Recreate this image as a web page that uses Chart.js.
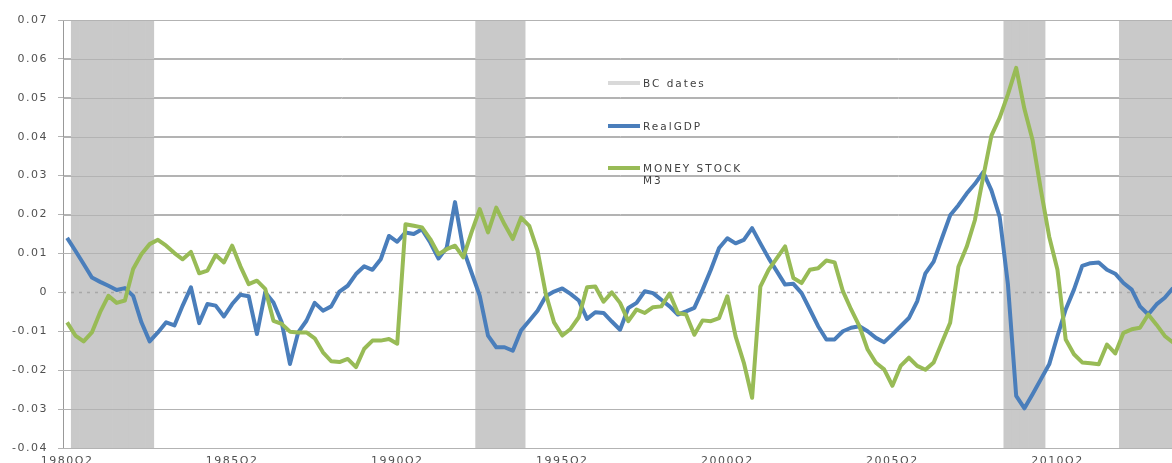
<!DOCTYPE html>
<html>
<head>
<meta charset="utf-8">
<script src="https://cdn.jsdelivr.net/npm/chart.js@4"></script>
<style>
  html, body { margin: 0; padding: 0; width: 1172px; height: 463px; overflow: hidden; background: #fff; }
  #wrap { position: absolute; left: 0; top: 0; width: 1180px; height: 475px; }
  #legend { position: absolute; left: 0; top: 0; font-family: "DejaVu Sans", sans-serif; font-size: 10.5px; color: #404040; letter-spacing: 2px; }
  .item { position: absolute; left: 608px; white-space: nowrap; }
  .item .swatch { position: absolute; left: 0; width: 32px; height: 4px; }
  .item .txt { position: absolute; left: 35px; line-height: 12px; }
</style>
</head>
<body>
<div id="wrap">
  <canvas id="chart" width="1180" height="475"></canvas>
  <div id="legend"></div>
</div>
<script>
/* === DATA === */
const firstYear = 1980;
const firstQuarter = 2;
const quarterCount = 135;

const xTickLabels = ["1980Q2", "1985Q2", "1990Q2", "1995Q2", "2000Q2", "2005Q2", "2010Q2"];

// business cycle periods (first and last quarter of each shaded band)
const bcPeriods = [
  ["1980Q3", "1982Q4"],
  ["1992Q4", "1994Q1"],
  ["2008Q4", "2009Q4"],
  ["2012Q2", "2013Q4"]
];

const realGDP = [
  0.014, 0.0107, 0.0073, 0.0038, 0.0027, 0.0017, 0.0006, 0.0011, -0.0009, -0.0077,
  -0.0126, -0.0103, -0.0077, -0.0085, -0.0034, 0.0013, -0.0079, -0.003, -0.0034, -0.0062,
  -0.003, -0.0006, -0.001, -0.0107, 0.0, -0.0026, -0.0077, -0.0184, -0.0103, -0.0073,
  -0.0027, -0.0047, -0.0036, 0.0002, 0.0017, 0.0047, 0.0067, 0.0058, 0.0085, 0.0145,
  0.013, 0.0154, 0.015, 0.0162, 0.0128, 0.0087, 0.0115, 0.0232, 0.0111, 0.0051,
  -0.0009, -0.0111, -0.0141, -0.0141, -0.015, -0.0098, -0.0073, -0.0047, -0.001, 0.0002,
  0.001, -0.0004, -0.0021, -0.0068, -0.0051, -0.0053, -0.0075, -0.0096, -0.004, -0.0027,
  0.0003, -0.0002, -0.0019, -0.0036, -0.0057, -0.0049, -0.004, 0.0007, 0.0058, 0.0114,
  0.0139, 0.0126, 0.0135, 0.0165, 0.0126, 0.0088, 0.0054, 0.002, 0.0022, -0.0002,
  -0.0044, -0.0087, -0.0121, -0.0121, -0.01, -0.0091, -0.0087, -0.01, -0.0117, -0.0128,
  -0.0108, -0.0087, -0.0066, -0.0023, 0.0049, 0.0079, 0.0139, 0.0198, 0.0224, 0.0254,
  0.0279, 0.0309, 0.0262, 0.0194, 0.002, -0.0266, -0.0298, -0.0261, -0.0223, -0.0185,
  -0.0112, -0.0044, 0.0007, 0.0068, 0.0075, 0.0077, 0.0058, 0.0048, 0.0024, 0.0007,
  -0.0036, -0.0057, -0.0031, -0.0014, 0.0011
];

const moneyStockM3 = [
  -0.0077, -0.0111, -0.0126, -0.0103, -0.0051, -0.0009, -0.0027, -0.0021, 0.006, 0.0098,
  0.0124, 0.0135, 0.012, 0.0101, 0.0085, 0.0104, 0.0049, 0.0056, 0.0096, 0.0077,
  0.012, 0.0067, 0.0021, 0.003, 0.0009, -0.0073, -0.0081, -0.0101, -0.0103, -0.0103,
  -0.0118, -0.0154, -0.0177, -0.0179, -0.0171, -0.0192, -0.0145, -0.0124, -0.0124, -0.012,
  -0.0132, 0.0175, 0.0171, 0.0167, 0.0137, 0.0098, 0.0111, 0.012, 0.009, 0.0154,
  0.0214, 0.0154, 0.0218, 0.0175, 0.0137, 0.0192, 0.0171, 0.0107, -0.0004, -0.0077,
  -0.0111, -0.0094, -0.0064, 0.0013, 0.0015, -0.0024, 0.0, -0.0027, -0.0074, -0.0044,
  -0.0053, -0.0038, -0.0036, -0.0003, -0.0053, -0.0057, -0.0109, -0.0072, -0.0074, -0.0066,
  -0.001, -0.0113, -0.0181, -0.0271, 0.0015, 0.0058, 0.0088, 0.0118, 0.0037, 0.0024,
  0.0058, 0.0062, 0.0082, 0.0077, 0.0003, -0.0044, -0.0087, -0.0147, -0.0181, -0.0198,
  -0.024, -0.0189, -0.0168, -0.0189, -0.0199, -0.018, -0.0129, -0.0078, 0.0066, 0.0117,
  0.0186, 0.0296, 0.0403, 0.0449, 0.0509, 0.0577, 0.0471, 0.039, 0.0262, 0.0143,
  0.0058, -0.0121, -0.0159, -0.018, -0.0182, -0.0185, -0.0134, -0.0157, -0.0104, -0.0095,
  -0.0091, -0.0057, -0.0083, -0.0112, -0.0129
];

const yMin = -0.04;
const yMax = 0.07;

/* === BUILD CATEGORIES === */
const quarters = [];
for (let i = 0; i < quarterCount; i++) {
  const q = firstQuarter - 1 + i;
  quarters.push(`${firstYear + Math.floor(q / 4)}Q${(q % 4) + 1}`);
}

function inBC(label) {
  const idx = quarters.indexOf(label);
  return bcPeriods.some(([a, b]) => {
    const ia = quarters.indexOf(a);
    const ib = quarters.indexOf(b) === -1 ? quarters.length - 1 : quarters.indexOf(b);
    return idx >= ia && idx <= ib;
  });
}

const bcBars = quarters.map(q => (inBC(q) ? [yMin, yMax] : null));

/* === COLORS === */
const BLUE = "#4a7ebb";
const GREEN = "#98bb56";
const GRID = "#b3b3b3";
const TEXT = "#505050";

/* === PLUGINS === */
// after the shaded bands: redraw horizontal grid + dotted zero line so they show over the bands
const overBands = {
  id: "overBands",
  afterDatasetDraw(chart, args) {
    if (args.meta.type !== "bar") return;
    const { ctx, chartArea, scales } = chart;
    ctx.save();
    ctx.lineWidth = 1;
    ctx.strokeStyle = GRID;
    scales.y.ticks.forEach(t => {
      if (Math.abs(t.value) < 1e-9) return;
      const y = Math.round(scales.y.getPixelForValue(t.value)) + 0.5;
      ctx.beginPath();
      ctx.moveTo(chartArea.left, y);
      ctx.lineTo(chartArea.right, y);
      ctx.stroke();
    });
    const y0 = Math.round(scales.y.getPixelForValue(0)) + 0.5;
    ctx.strokeStyle = "#a8a8a8";
    ctx.lineWidth = 1.5;
    ctx.setLineDash([3, 5]);
    ctx.beginPath();
    ctx.moveTo(chartArea.left, y0);
    ctx.lineTo(chartArea.right, y0);
    ctx.stroke();
    ctx.restore();
  }
};

const spacing = {
  id: "spacing",
  beforeDraw(chart) {
    chart.ctx.letterSpacing = "1.5px";
  }
};

/* === CHART === */
const chart = new Chart(document.getElementById("chart"), {
  data: {
    labels: quarters,
    datasets: [
      {
        type: "line",
        label: "MONEY STOCK M3",
        data: moneyStockM3,
        borderColor: GREEN,
        borderWidth: 4,
        pointRadius: 0,
        tension: 0,
        borderJoinStyle: "round",
        order: 0
      },
      {
        type: "line",
        label: "RealGDP",
        data: realGDP,
        borderColor: BLUE,
        borderWidth: 4,
        pointRadius: 0,
        tension: 0,
        borderJoinStyle: "round",
        order: 1
      },
      {
        type: "bar",
        label: "BC dates",
        data: bcBars,
        backgroundColor: "#c9c9c9",
        borderWidth: 0,
        barPercentage: 1,
        categoryPercentage: 1,
        order: 2
      }
    ]
  },
  plugins: [overBands, spacing],
  options: {
    responsive: false,
    animation: false,
    devicePixelRatio: 1,
    layout: { padding: { left: 0, right: 2, top: 20, bottom: 0 } },
    plugins: {
      legend: { display: false },
      tooltip: { enabled: false }
    },
    scales: {
      x: {
        type: "category",
        offset: true,
        grid: { display: false, drawTicks: false },
        border: { color: GRID },
        ticks: {
          autoSkip: false,
          maxRotation: 0,
          padding: 7,
          color: TEXT,
          font: { family: "DejaVu Sans", size: 11 },
          callback(v, i) {
            const l = quarters[i];
            return xTickLabels.includes(l) ? l : "";
          }
        },
        afterFit(scale) { scale.height = 27; }
      },
      y: {
        min: yMin,
        max: yMax,
        grid: {
          color: ctx => (ctx.tick && Math.abs(ctx.tick.value) < 1e-9 ? "rgba(0,0,0,0)" : GRID),
          tickColor: GRID,
          tickLength: 5
        },
        border: { color: "#999999" },
        ticks: {
          stepSize: 0.01,
          padding: 10,
          color: TEXT,
          font: { family: "DejaVu Sans", size: 11 },
          callback: v => (Math.abs(v) < 1e-9 ? "0" : v.toFixed(2))
        },
        afterFit(scale) { scale.width = 63; }
      }
    }
  }
});

/* === LEGEND (inside plot) === */
const legendItems = [
  { text: ["BC dates"], color: "#d9d9d9", top: 83 },
  { text: ["RealGDP"], color: BLUE, top: 126 },
  { text: ["MONEY STOCK", "M3"], color: GREEN, top: 168 }
];
const legendBox = document.getElementById("legend");
legendItems.forEach(it => {
  const d = document.createElement("div");
  d.className = "item";
  d.style.top = it.top + "px";
  d.innerHTML = `<div class="swatch" style="top:-2px;background:${it.color}"></div>` +
    `<div class="txt" style="top:-6px">${it.text.join("<br>")}</div>`;
  legendBox.appendChild(d);
});
</script>
</body>
</html>
